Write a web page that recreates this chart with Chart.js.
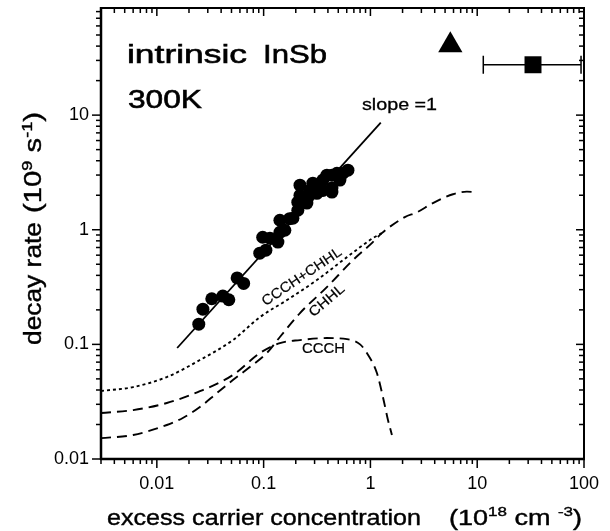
<!DOCTYPE html>
<html>
<head>
<meta charset="utf-8">
<script src="https://cdn.jsdelivr.net/npm/chart.js@4.4.1/dist/chart.umd.min.js"></script>
<style>
  html, body { margin: 0; padding: 0; background: #fff; }
  #wrap { width: 610px; height: 531px; }
</style>
</head>
<body>
<div id="wrap"><canvas id="chart" width="610" height="531"></canvas></div>
<script>
// Measured points (excess carrier concentration, 1e18 cm^-3 / decay rate, 1e9 s^-1)
const dotConc = [0.0247, 0.0270, 0.0327, 0.0415, 0.0472, 0.0565, 0.065, 0.092, 0.098, 0.105, 0.1145, 0.136,
  0.142, 0.142, 0.158, 0.175, 0.188, 0.209, 0.209, 0.219, 0.219, 0.254, 0.26, 0.271, 0.289, 0.315, 0.336,
  0.359, 0.359, 0.391, 0.436, 0.436, 0.436, 0.486, 0.518, 0.553, 0.616];
const dotRate = [0.150, 0.203, 0.25, 0.264, 0.245, 0.38, 0.34, 0.625, 0.86, 0.664, 0.845, 0.78,
  0.95, 1.21, 0.99, 1.25, 1.26, 1.48, 1.74, 2.0, 2.45, 1.71, 1.92, 2.21, 2.55, 2.08, 2.35,
  2.71, 2.2, 2.99, 2.31, 2.99, 2.13, 3.11, 2.71, 3.11, 3.31];

// slope = 1 guide line
const slopeConc = [0.0155, 1.25];
const slopeRate = [0.093, 8.6];

// calculated Auger rates
const totConc = [0.003, 0.006, 0.0124, 0.0253, 0.0515, 0.0923, 0.165, 0.315, 0.603, 1.055, 1.28];
const totRate = [0.0392, 0.0424, 0.0519, 0.0730, 0.109, 0.173, 0.243, 0.364, 0.577, 0.845, 0.934];

const chhlConc = [0.003, 0.006, 0.0124, 0.0175, 0.0253, 0.0365, 0.0515, 0.0743, 0.107, 0.142, 0.219,
  0.391, 0.686, 1.055, 1.28, 2.1, 2.73, 3.85, 5.93, 8.0, 9.6];
const chhlRate = [0.0152, 0.0162, 0.0198, 0.0228, 0.0284, 0.0376, 0.0488, 0.0634, 0.084, 0.116, 0.1875,
  0.316, 0.543, 0.780, 0.934, 1.29, 1.42, 1.71, 2.04, 2.15, 2.13];

const ccchConc = [0.003, 0.006, 0.0124, 0.0253, 0.0515, 0.0923, 0.142, 0.219, 0.391, 0.603, 0.80,
  0.927, 1.15, 1.31, 1.46, 1.59];
const ccchRate = [0.0252, 0.0267, 0.0308, 0.0390, 0.054, 0.084, 0.1026, 0.109, 0.1135, 0.111, 0.100,
  0.084, 0.0562, 0.0347, 0.0219, 0.0162];

// other measurements
const triConc = [5.6];
const triRate = [40.7];
const sqConc = [33.3];
const sqRate = [27.5];
const sqLow = [11.4];
const sqHigh = [93.8];

// axis tick labels
const xTickLabels = ['0.01', '0.1', '1', '10', '100'];
const yTickLabels = ['0.01', '0.1', '1', '10'];

const FONT = '"Liberation Sans", Arial, Helvetica, sans-serif';

function pts(xs, ys) {
  return xs.map((v, i) => ({ x: v, y: ys[i] }));
}

function tickLabel(list) {
  return function(value) {
    const s = String(+Number(value).toPrecision(3));
    return list.includes(s) ? s : '';
  };
}

// draw text (with optional superscripts) stretched to a measured width
function fitText(ctx, parts, x, y, width, angle, center, heavy) {
  ctx.save();
  ctx.translate(x, y);
  ctx.rotate(angle || 0);
  let natural = 0;
  parts.forEach(p => {
    ctx.font = p[1] + 'px ' + FONT;
    natural += ctx.measureText(p[0]).width;
  });
  ctx.scale(width / natural, 1);
  ctx.textBaseline = center ? 'middle' : 'alphabetic';
  ctx.textAlign = 'left';
  ctx.lineWidth = heavy || 0;
  let cx = center ? -natural / 2 : 0;
  parts.forEach(p => {
    ctx.font = p[1] + 'px ' + FONT;
    ctx.fillText(p[0], cx, -(p[2] || 0));
    if (heavy) ctx.strokeText(p[0], cx, -(p[2] || 0));
    cx += ctx.measureText(p[0]).width;
  });
  ctx.restore();
}

const framePlugin = {
  id: 'frame',
  afterDatasetsDraw(chart) {
    const { ctx, scales: { x, y } } = chart;
    // horizontal error bar on the square point
    ctx.save();
    ctx.strokeStyle = '#000';
    ctx.lineWidth = 1.5;
    sqConc.forEach((v, i) => {
      const py = y.getPixelForValue(sqRate[i]);
      const x0 = x.getPixelForValue(sqLow[i]);
      const x1 = x.getPixelForValue(sqHigh[i]);
      ctx.beginPath();
      ctx.moveTo(x0, py); ctx.lineTo(x1, py);
      ctx.moveTo(x0, py - 9); ctx.lineTo(x0, py + 9);
      ctx.moveTo(x1, py - 9); ctx.lineTo(x1, py + 9);
      ctx.stroke();
    });
    ctx.restore();
  },
  afterDraw(chart) {
    const { ctx, chartArea: a, scales: { x, y } } = chart;
    ctx.save();
    ctx.strokeStyle = '#000';
    ctx.fillStyle = '#000';

    const line = (x0, y0, x1, y1) => {
      ctx.beginPath(); ctx.moveTo(x0, y0); ctx.lineTo(x1, y1); ctx.stroke();
    };
    const mant = v => v / Math.pow(10, Math.floor(Math.log10(v) + 1e-9));

    // tick marks: outward on left/bottom, inward on top/right
    ctx.lineWidth = 1.5;
    x.ticks.forEach(t => {
      const m = mant(t.value);
      if (Math.abs(m - Math.round(m)) > 1e-6) return;
      const major = Math.abs(m - 1) < 1e-6 || Math.abs(m - 10) < 1e-6;
      const p = x.getPixelForValue(t.value);
      line(p, a.bottom, p, a.bottom + (major ? 9 : 5));
      line(p, a.top, p, a.top + (major ? 8 : 5));
    });
    y.ticks.forEach(t => {
      const m = mant(t.value);
      if (Math.abs(m - Math.round(m)) > 1e-6) return;
      const major = Math.abs(m - 1) < 1e-6 || Math.abs(m - 10) < 1e-6;
      const p = y.getPixelForValue(t.value);
      line(a.left - (major ? 9 : 5), p, a.left, p);
      line(a.right - (major ? 8 : 5), p, a.right, p);
    });

    // frame
    ctx.lineWidth = 2.5;
    line(a.left, a.top - 1, a.left, a.bottom + 1);
    line(a.left - 1, a.bottom, a.right + 1, a.bottom);
    ctx.lineWidth = 2;
    line(a.left, a.top, a.right, a.top);
    line(a.right, a.top - 1, a.right, a.bottom + 1);

    // annotations
    fitText(ctx, [['intrinsic', 26.5]], 127, 63, 120, 0, false, 0.6);
    fitText(ctx, [['InSb', 26.5]], 263, 63, 64, 0, false, 0.6);
    fitText(ctx, [['300K', 26.5]], 128, 108, 74, 0, false, 0.6);
    fitText(ctx, [['slope =1', 16]], 362, 110, 75, 0, false, 0.3);
    fitText(ctx, [['CCCH', 14]], 302, 353, 43, 0, false, 0.2);
    fitText(ctx, [['CCCH+CHHL', 14]], 302, 277, 93, -34 * Math.PI / 180, true, 0.2);
    fitText(ctx, [['CHHL', 14]], 327, 301, 42, -40.6 * Math.PI / 180, true, 0.2);

    // axis titles
    fitText(ctx, [['excess carrier concentration', 21.5]], 107, 525, 314, 0, false, 0.4);
    fitText(ctx, [['(10', 21.5], ['18', 13.5, 9], [' cm ', 21.5], ['-3', 13.5, 9], [')', 21.5]], 449, 525, 133, 0, false, 0.4);
    fitText(ctx, [['decay rate', 23.5]], 41, 345, 123, -Math.PI / 2, false, 0.4);
    fitText(ctx, [['(10', 23.5], ['9', 14.5, 9], [' s', 23.5], ['-1', 14.5, 9], [')', 23.5]], 41, 213, 101, -Math.PI / 2, false, 0.4);
    ctx.restore();
  }
};

const curve = (data, dash) => ({
  data: data,
  showLine: true,
  borderColor: '#000',
  borderWidth: 1.9,
  borderDash: dash,
  pointRadius: 0,
  cubicInterpolationMode: 'monotone',
  fill: false
});

new Chart(document.getElementById('chart'), {
  type: 'scatter',
  data: {
    datasets: [
      curve(pts(totConc, totRate), [3, 3]),
      curve(pts(chhlConc, chhlRate), [10, 6]),
      curve(pts(ccchConc, ccchRate), [10, 6]),
      {
        data: pts(slopeConc, slopeRate),
        showLine: true,
        borderColor: '#000',
        borderWidth: 1.8,
        pointRadius: 0
      },
      {
        data: pts(dotConc, dotRate),
        pointRadius: 6.5,
        pointBackgroundColor: '#000',
        pointBorderWidth: 0,
        borderColor: '#000'
      },
      {
        data: pts(triConc, triRate),
        pointStyle: 'triangle',
        pointRadius: 14,
        pointBackgroundColor: '#000',
        pointBorderWidth: 0
      },
      {
        data: pts(sqConc, sqRate),
        pointStyle: 'rect',
        pointRadius: 12,
        pointBackgroundColor: '#000',
        pointBorderWidth: 0
      }
    ]
  },
  options: {
    responsive: false,
    animation: false,
    events: [],
    layout: { autoPadding: false, padding: { left: 0, right: 26, top: 8, bottom: 0 } },
    plugins: {
      legend: { display: false },
      tooltip: { enabled: false }
    },
    scales: {
      x: {
        type: 'logarithmic',
        min: 0.003,
        max: 100,
        afterFit: s => { s.height = 72; s.paddingLeft = 0; s.paddingRight = 0; },
        border: { display: false },
        grid: { drawOnChartArea: false, tickLength: 8, tickColor: 'rgba(0,0,0,0)' },
        ticks: {
          autoSkip: false,
          maxRotation: 0,
          padding: 6,
          color: '#000',
          font: { family: FONT, size: 18 },
          callback: tickLabel(xTickLabels)
        }
      },
      y: {
        type: 'logarithmic',
        min: 0.01,
        max: 86,
        afterFit: s => { s.width = 101; s.paddingTop = 0; s.paddingBottom = 0; },
        border: { display: false },
        grid: { drawOnChartArea: false, tickLength: 8, tickColor: 'rgba(0,0,0,0)' },
        ticks: {
          autoSkip: false,
          padding: 4,
          color: '#000',
          font: { family: FONT, size: 18 },
          callback: tickLabel(yTickLabels)
        }
      }
    }
  },
  plugins: [framePlugin]
});
</script>
</body>
</html>
